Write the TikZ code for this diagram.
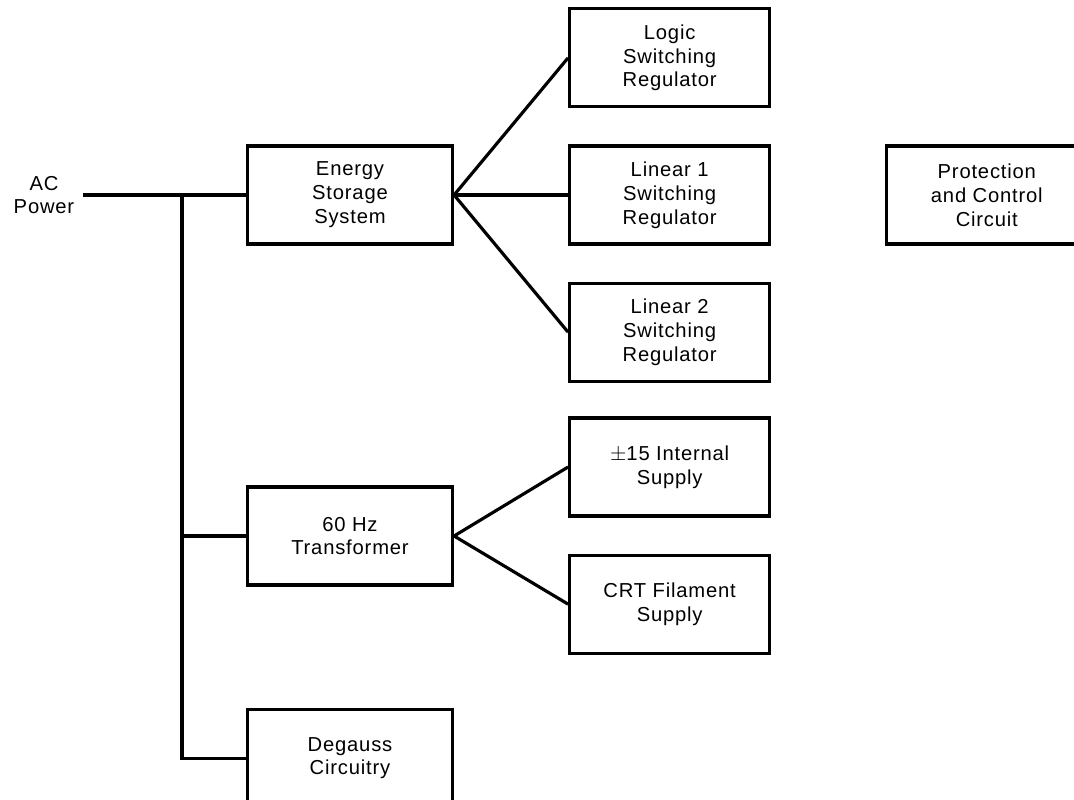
\documentclass[tikz,border=0pt]{standalone}
\usepackage{fontspec}
\setmainfont[LetterSpace=4]{Liberation Sans}
\usepackage{tikz}
\usetikzlibrary{positioning}

\begin{document}
\begin{tikzpicture}[
        node distance=.72cm and 2.28cm,
        every node/.style={align=center, font=\fontsize{11.5}{13.6}\selectfont},
        every path/.style={line width=1.8pt},
        block/.style={draw, minimum width=4.1cm, minimum height=1.96cm, inner sep=2pt},
        unit/.style={draw, minimum width=4cm, minimum height=1.96cm, inner sep=2pt}
    ]
    \useasboundingbox (0,0) rectangle (21.48,-16);

    % Nodes
    \node (ac) at (0.88,-3.9) [inner sep=4pt] {AC\\Power};

    \node (energy) at (7,-3.9) [block] {Energy\\Storage\\System};
    \node (lin1)[right=of energy, unit] {Linear 1\\Switching\\Regulator};
    \node (logic)[above=of lin1, unit] {Logic\\Switching\\Regulator};
    \node (lin2)[below=of lin1, unit] {Linear 2\\Switching\\Regulator};
    \node (prot)[right=of lin1, unit] {Protection\\and Control\\Circuit};

    \node (xfmr) at (7,-10.72) [block] {60 Hz\\Transformer};
    \node (plus)[right=of xfmr, unit, yshift=1.38cm] {$\pm$15 Internal\\Supply};
    \node (crt)[below=of plus, unit] {CRT Filament\\Supply};

    \node (degauss)[below=2.42cm of xfmr, block] {Degauss\\Circuitry};

    \coordinate (tap) at (3.64,-3.9);

    % Edges
    \draw (ac) -- (energy);
    \draw (tap) |- (degauss);
    \draw (tap |- xfmr) -- (xfmr);

    \draw (energy.east) -- (logic.west);
    \draw (energy.east) -- (lin1.west);
    \draw (energy.east) -- (lin2.west);

    \draw (xfmr.east) -- (plus.west);
    \draw (xfmr.east) -- (crt.west);

\end{tikzpicture}
\end{document}
